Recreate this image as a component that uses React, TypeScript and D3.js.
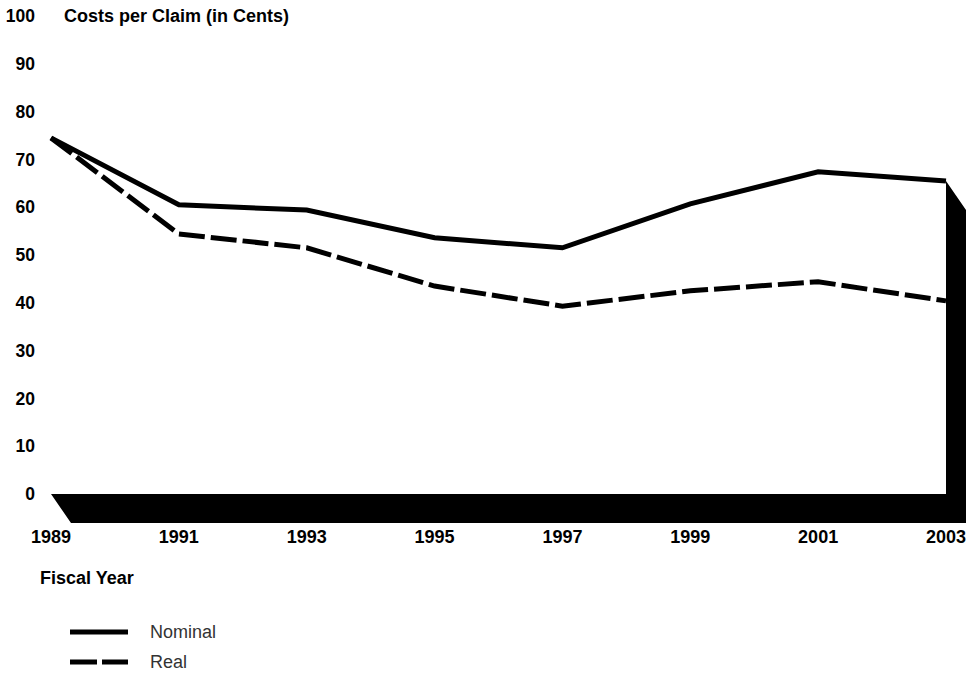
import React from "react";
import * as d3 from "d3";

const years = [1989, 1991, 1993, 1995, 1997, 1999, 2001, 2003];
const nominal = [74.5, 60.5, 59.4, 53.6, 51.5, 60.7, 67.4, 65.5];
const real = [74.5, 54.4, 51.5, 43.5, 39.3, 42.5, 44.4, 40.4];
const yTicks = [0, 10, 20, 30, 40, 50, 60, 70, 80, 90, 100];
const seriesNames = ["Nominal", "Real"];

export default function App() {
  const W = 979, H = 675;
  const x = d3.scaleLinear().domain([1989, 2003]).range([51, 946]);
  const y = d3.scaleLinear().domain([0, 100]).range([494, 16]);
  const depthX = 20, depthY = 29;
  const line = d3.line<number>().x((_, i) => x(years[i])).y((d) => y(d));
  const x0 = x(1989), x1 = x(2003), yb = y(0);
  const wallTop = y(nominal[nominal.length - 1]);
  const solid = [
    [x0, yb], [x1, yb], [x1, wallTop], [x1 + depthX, wallTop + depthY],
    [x1 + depthX, yb + depthY], [x0 + depthX, yb + depthY],
  ];
  const font = "'Liberation Sans', Arial, sans-serif";
  const fs = 18;
  return (
    <svg width={W} height={H} style={{ position: "absolute", left: 0, top: 0 }}>
      <rect width={W} height={H} fill="#fff" />
      <path d={"M" + solid.map((p) => p.join(",")).join("L") + "Z"} fill="#000" />
      {yTicks.map((t) => (
        <text key={t} x={35} y={y(t)} dy="0.35em" textAnchor="end" fontFamily={font}
          fontWeight="bold" fontSize={17.5} fill="#000">{t}</text>
      ))}
      <text x={64} y={y(100)} dy="0.35em" fontFamily={font} fontWeight="bold" fontSize={fs}>
        Costs per Claim (in Cents)
      </text>
      {years.map((yr) => (
        <text key={yr} x={x(yr)} y={537} dy="0.35em" textAnchor="middle" fontFamily={font}
          fontWeight="bold" fontSize={fs}>{yr}</text>
      ))}
      <text x={40} y={578} dy="0.35em" fontFamily={font} fontWeight="bold" fontSize={fs}>Fiscal Year</text>
      <path d={line(real) || ""} fill="none" stroke="#000" strokeWidth={5}
        strokeDasharray="26 6" strokeLinejoin="miter" />
      <path d={line(nominal) || ""} fill="none" stroke="#000" strokeWidth={5} strokeLinejoin="miter" />
      {seriesNames.map((n, i) => (
        <g key={n} transform={`translate(0,${632 + i * 30})`}>
          <line x1={70} x2={128} y1={0} y2={0} stroke="#000" strokeWidth={5}
            strokeDasharray={i === 1 ? "27 5" : undefined} />
          <text x={150} y={0} dy="0.35em" fontFamily={font} fontSize={18} fill="#333">{n}</text>
        </g>
      ))}
    </svg>
  );
}
